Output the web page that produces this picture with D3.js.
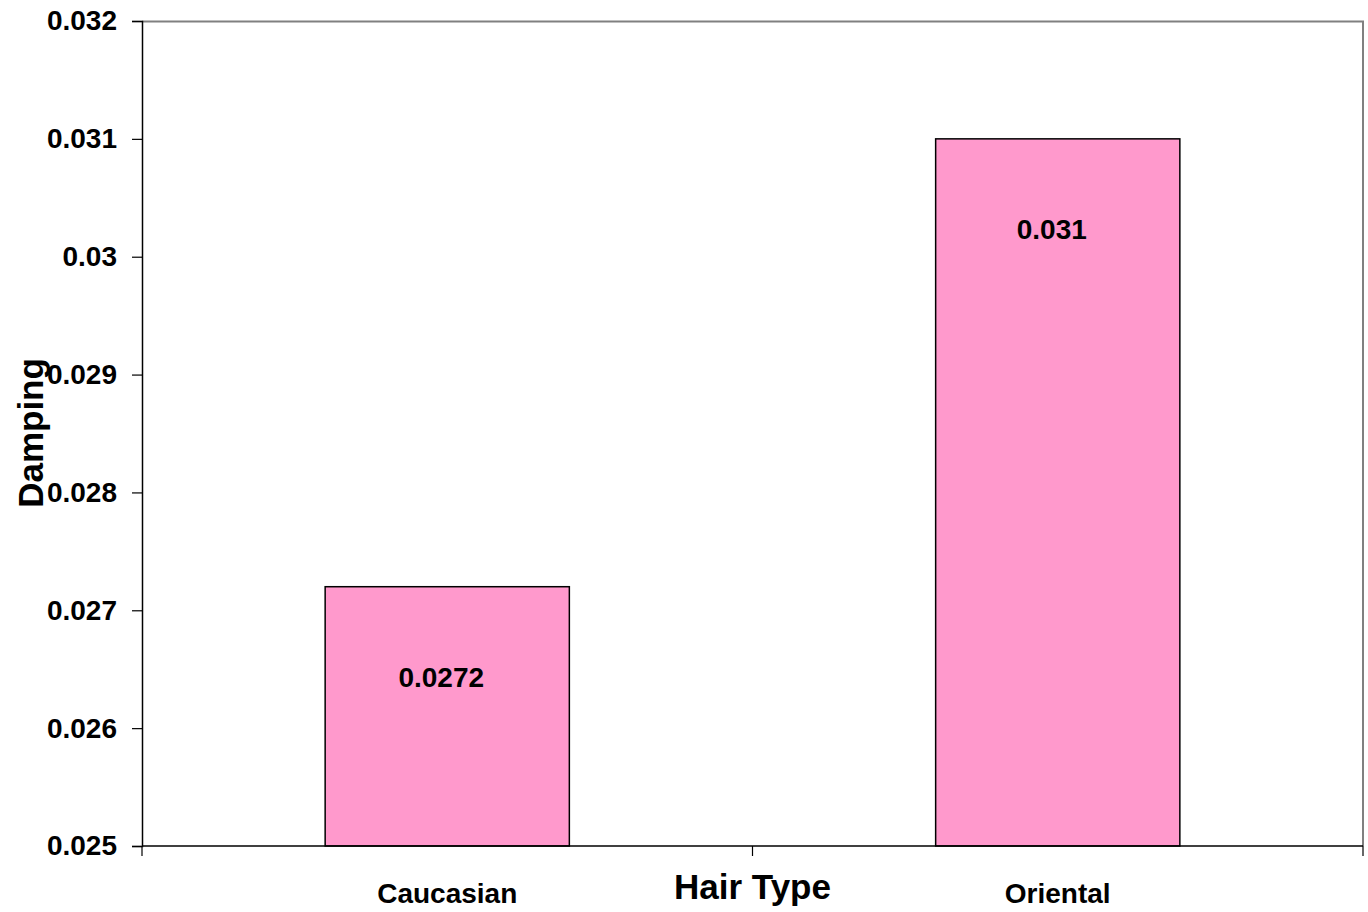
<!DOCTYPE html>
<html>
<head>
<meta charset="utf-8">
<script src="https://cdn.jsdelivr.net/npm/d3@7"></script>
<style>
  html, body { margin: 0; padding: 0; background: #fff; }
  svg { display: block; }
  text { font-family: "Liberation Sans", Arial, sans-serif; font-weight: bold; fill: #000; }
</style>
</head>
<body>
<script>
// Hair damping by hair type
const categories = ["Caucasian", "Oriental"];
const values = [0.0272, 0.031];
const valueLabels = ["0.0272", "0.031"];
const yTicks = [0.025, 0.026, 0.027, 0.028, 0.029, 0.03, 0.031, 0.032];
const yTickLabels = ["0.025", "0.026", "0.027", "0.028", "0.029", "0.03", "0.031", "0.032"];
const xTitle = "Hair Type";
const yTitle = "Damping";

const width = 1368, height = 912;
const margin = { top: 21, right: 5, bottom: 66, left: 142 };
const innerW = width - margin.left - margin.right;
const innerH = height - margin.top - margin.bottom;

const svg = d3.select("body").append("svg")
  .attr("width", width).attr("height", height);

const g = svg.append("g").attr("transform", `translate(${margin.left},${margin.top})`);

const x = d3.scaleBand().domain(categories).range([0, innerW]).padding(0);
const y = d3.scaleLinear().domain([0.025, 0.032]).range([innerH, 0]);

const barW = x.bandwidth() * 0.4;

// plot frame (top and right edges)
g.append("path")
  .attr("d", `M0,0.5H${innerW}V${innerH}`)
  .attr("fill", "none").attr("stroke", "#808080").attr("stroke-width", 2);

// bars
g.selectAll("rect.bar").data(categories).join("rect")
  .attr("class", "bar")
  .attr("x", (d) => x(d) + (x.bandwidth() - barW) / 2)
  .attr("y", (d, i) => y(values[i]))
  .attr("width", barW)
  .attr("height", (d, i) => innerH - y(values[i]))
  .attr("fill", "#FF99CC")
  .attr("stroke", "#000").attr("stroke-width", 1.5);

// value labels inside bars
g.selectAll("text.val").data(categories).join("text")
  .attr("class", "val")
  .attr("x", (d) => x(d) + x.bandwidth() / 2 - 6)
  .attr("y", (d, i) => y(values[i]) + 90)
  .attr("dy", "0.35em")
  .attr("text-anchor", "middle")
  .style("font-size", "28px")
  .text((d, i) => valueLabels[i]);

// y axis
const yAxis = d3.axisLeft(y).tickValues(yTicks)
  .tickFormat((d, i) => yTickLabels[i]).tickSizeOuter(0).tickSize(10).tickPadding(15);
const ya = g.append("g").call(yAxis);
ya.select(".domain").attr("stroke", "#000").attr("stroke-width", 1.5);
ya.selectAll(".tick line").attr("stroke", "#000").attr("stroke-width", 1.2);
ya.selectAll(".tick text").style("font-size", "28px").style("font-family", "Liberation Sans, Arial, sans-serif").style("font-weight", "bold");

// x axis: ticks at category boundaries
const boundaries = [0, ...categories.map((c) => x(c) + x.bandwidth())];
const xa = g.append("g").attr("transform", `translate(0,${innerH})`);
xa.append("line").attr("x1", 0).attr("x2", innerW).attr("stroke", "#000").attr("stroke-width", 1.5);
xa.selectAll("line.tk").data(boundaries).join("line")
  .attr("class", "tk")
  .attr("x1", (d) => d).attr("x2", (d) => d)
  .attr("y1", 0).attr("y2", 10)
  .attr("stroke", "#000").attr("stroke-width", 1.2);
xa.selectAll("text.cat").data(categories).join("text")
  .attr("class", "cat")
  .attr("x", (d) => x(d) + x.bandwidth() / 2)
  .attr("y", 57)
  .attr("text-anchor", "middle")
  .style("font-size", "28px")
  .text((d) => d);

// axis titles
svg.append("text")
  .attr("x", margin.left + innerW / 2)
  .attr("y", 899)
  .attr("text-anchor", "middle")
  .style("font-size", "35px")
  .text(xTitle);

svg.append("text")
  .attr("transform", `translate(43,433) rotate(-90)`)
  .attr("text-anchor", "middle")
  .style("font-size", "35px")
  .text(yTitle);
</script>
</body>
</html>
